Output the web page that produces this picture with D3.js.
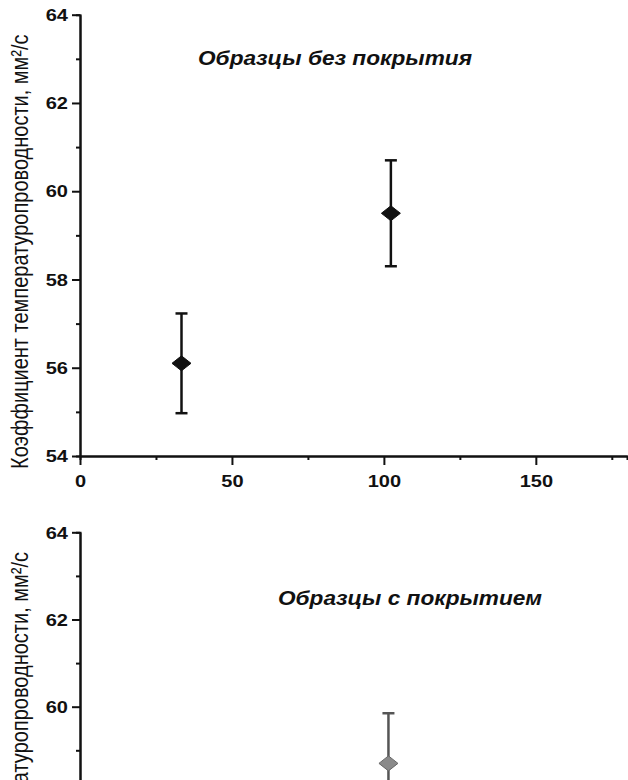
<!DOCTYPE html>
<html>
<head>
<meta charset="utf-8">
<script src="https://cdn.jsdelivr.net/npm/d3@7"></script>
<style>
  body { margin: 0; background: #fff; }
  text { font-family: "Liberation Sans", Arial, sans-serif; }
</style>
</head>
<body>
<div class="chart"></div>
<script>
var w = 628;
var h = 780;

// data
var xTicks = [0, 50, 100, 150];
var yTicks = [54, 56, 58, 60, 62, 64];

var topX = [33.4, 102.3];
var topY = [56.1, 59.5];
var topErr = [1.13, 1.2];

var botX = [101.5];
var botY = [58.7];
var botErr = [1.15];

var yLabel = "Коэффициент температуропроводности, мм²/с";
var topTitle = "Образцы без покрытия";
var botTitle = "Образцы с покрытием";

var svg = d3.select(".chart")
  .append("svg")
  .attr("width", w)
  .attr("height", h);

var stretch = 1.25;

function panel(opt) {
  var g = svg.append("g");

  var xScale = d3.scaleLinear().domain([0, 180]).range([80, 627]);
  var yScale = d3.scaleLinear().domain([54, 64]).range([opt.y54, opt.y64]);

  // only the ticks that fall inside the page
  var inView = (v) => yScale(v) <= h;
  var yMajor = yTicks.filter(inView);
  var yMinor = d3.range(55, 64, 2).filter(inView);

  if (opt.showX) {
    g.append("g")
      .attr("transform", "translate(0," + opt.y54 + ")")
      .call(d3.axisBottom(xScale).tickValues(d3.range(25, 180, 50)).tickSize(4).tickFormat(""));
    g.append("g")
      .attr("class", "xaxis")
      .attr("transform", "translate(0," + opt.y54 + ")")
      .call(d3.axisBottom(xScale).tickValues(xTicks).tickSize(9).tickSizeOuter(0).tickPadding(11));
  }
  g.append("g")
    .attr("transform", "translate(80,0)")
    .call(d3.axisLeft(yScale).tickValues(yMinor).tickSize(4).tickFormat(""));
  g.append("g")
    .attr("class", "yaxis")
    .attr("transform", "translate(80,0)")
    .call(d3.axisLeft(yScale).tickValues(yMajor).tickSize(8).tickSizeOuter(0));

  g.selectAll(".domain").attr("stroke", "#111").attr("stroke-width", 2);
  g.selectAll(".tick line").attr("stroke", "#111").attr("stroke-width", 2);
  g.selectAll(".tick text")
    .attr("fill", "#111")
    .style("font-size", "16px")
    .style("font-weight", "bold");
  g.selectAll(".yaxis .tick text")
    .attr("dy", "0.36em")
    .attr("transform", "scale(" + stretch + ",1)")
    .attr("x", -12 / stretch);
  g.selectAll(".xaxis .tick text")
    .attr("transform", "scale(" + stretch + ",1)");

  // y label
  g.append("text")
    .attr("transform", "translate(28," + (opt.y64 + 237) + ") scale(1.2,1) rotate(-90)")
    .attr("text-anchor", "middle")
    .style("font-size", "20px")
    .attr("fill", "#111")
    .text(yLabel);

  // title
  g.append("text")
    .attr("x", opt.titleX)
    .attr("y", opt.titleY)
    .attr("textLength", opt.titleW)
    .attr("lengthAdjust", "spacingAndGlyphs")
    .style("font-size", "21px")
    .style("font-weight", "bold")
    .style("font-style", "italic")
    .attr("fill", "#111")
    .text(opt.title);

  // error bars
  var pts = opt.xs.map(function(x, i) { return {x: x, y: opt.ys[i], e: opt.es[i]}; });
  var bars = g.selectAll(".err").data(pts).enter().append("g");
  bars.append("line")
    .attr("x1", (d) => xScale(d.x)).attr("x2", (d) => xScale(d.x))
    .attr("y1", (d) => yScale(d.y + d.e)).attr("y2", (d) => yScale(d.y - d.e))
    .attr("stroke", opt.barColor).attr("stroke-width", 2.5);
  [1, -1].forEach(function(s) {
    bars.append("line")
      .attr("x1", (d) => xScale(d.x) - 6).attr("x2", (d) => xScale(d.x) + 6)
      .attr("y1", (d) => yScale(d.y + s * d.e)).attr("y2", (d) => yScale(d.y + s * d.e))
      .attr("stroke", opt.barColor).attr("stroke-width", 2.5);
  });
  // diamonds
  bars.append("path")
    .attr("d", "M0,-7.5L9.5,0L0,7.5L-9.5,0Z")
    .attr("transform", (d) => "translate(" + xScale(d.x) + "," + yScale(d.y) + ")")
    .attr("fill", opt.fill)
    .attr("stroke", opt.stroke)
    .attr("stroke-width", 1);
}

panel({
  y54: 456, y64: 14.7, showX: true,
  title: topTitle, titleX: 198, titleY: 65, titleW: 274,
  xs: topX, ys: topY, es: topErr,
  barColor: "#111", fill: "#111", stroke: "#111"
});

panel({
  y54: 968.3, y64: 532.3, showX: false,
  title: botTitle, titleX: 278, titleY: 605, titleW: 264,
  xs: botX, ys: botY, es: botErr,
  barColor: "#555", fill: "#8a8a8a", stroke: "#666"
});
</script>
</body>
</html>
